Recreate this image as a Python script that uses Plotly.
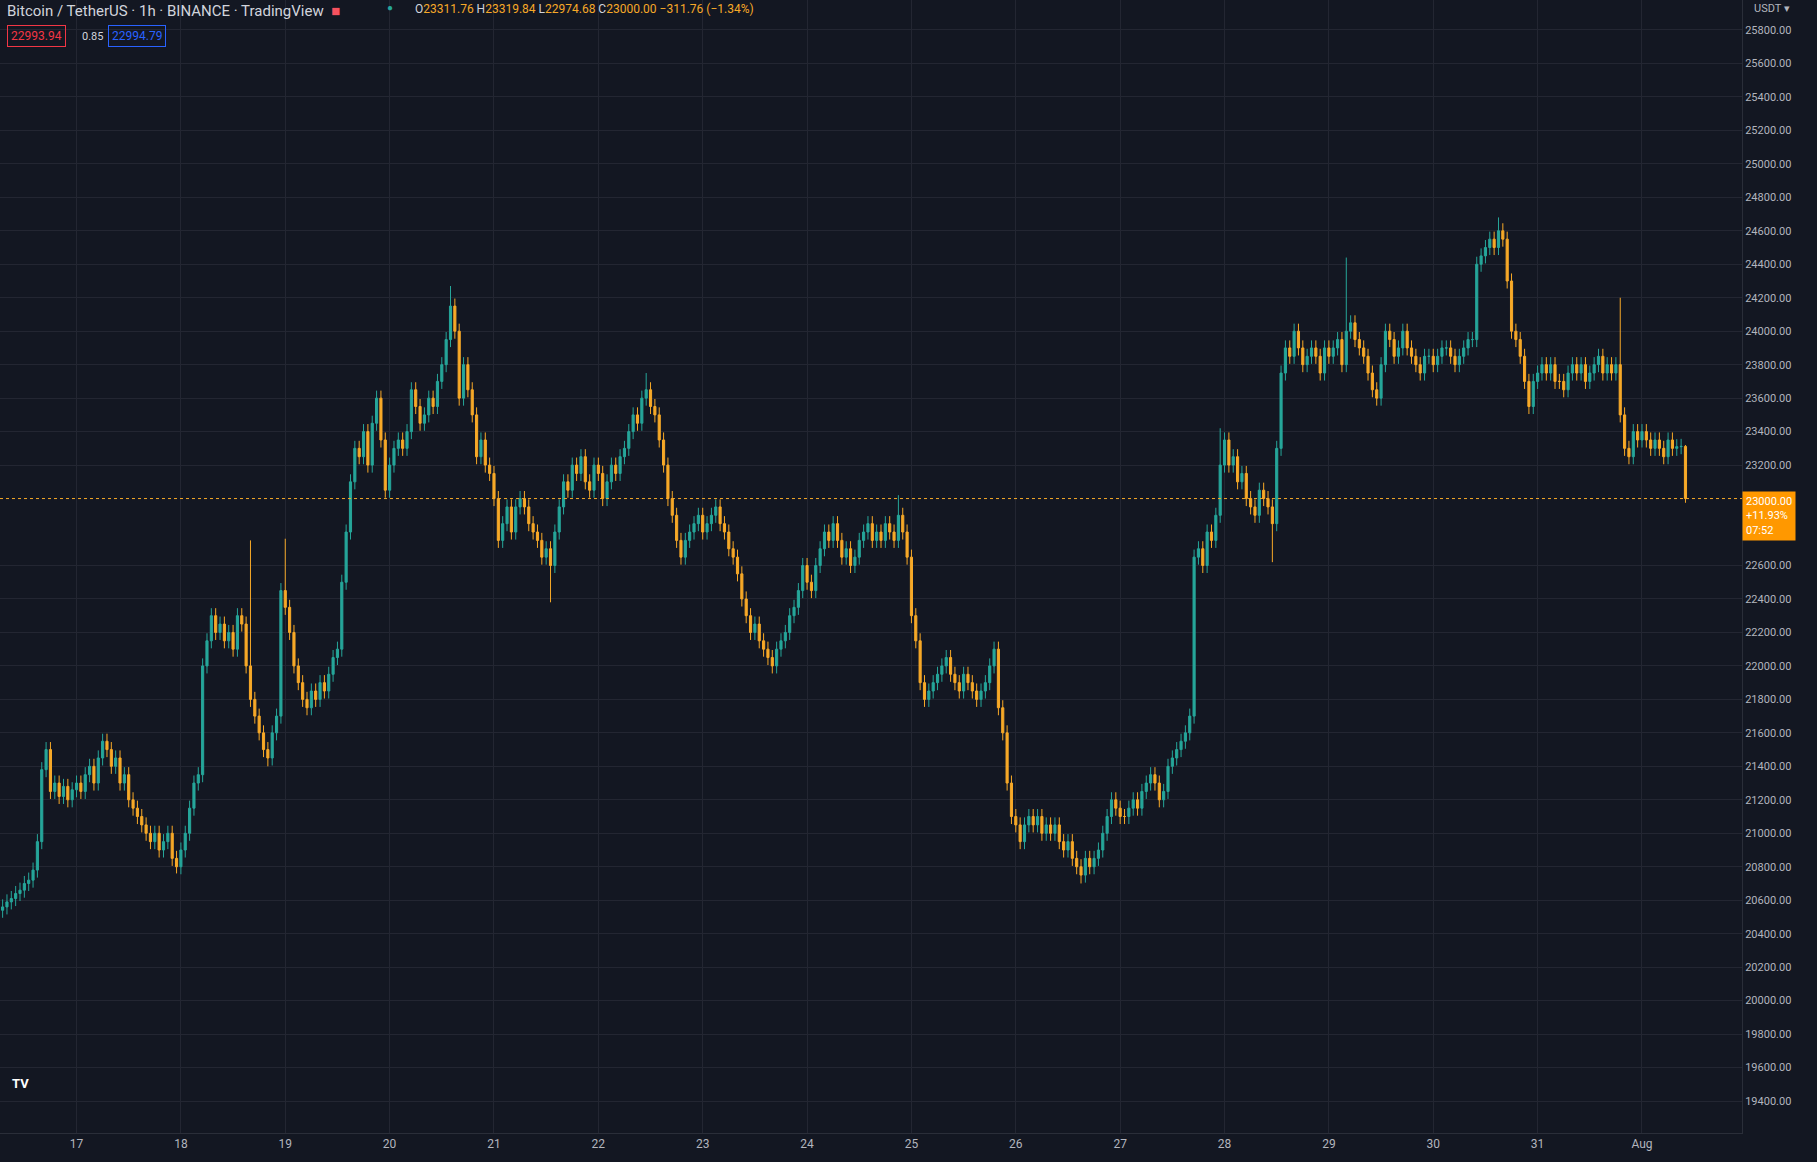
import plotly.graph_objects as go
import pandas as pd

# hourly closes, by day (Jul16 from 07:00, Aug1 to 10:00)
closes_by_day = [
 [20560,20590,20610,20640,20660,20700,20720,20780,20950,21380,21500,21250,21300,21220,21280,21200,21260],
 [21300,21250,21350,21400,21300,21450,21550,21500,21400,21450,21300,21350,21200,21150,21100,21050,21000,20950,21000,20900,20950,21000,20850,20800],
 [20900,21000,21150,21300,21350,22000,22150,22300,22200,22250,22150,22200,22100,22300,22250,22000,21800,21700,21600,21500,21450,21600,21700,22450],
 [22350,22200,22000,21900,21800,21750,21850,21800,21900,21850,21950,22050,22100,22500,22800,23100,23300,23250,23400,23200,23450,23600,23350,23050],
 [23200,23300,23350,23300,23400,23650,23550,23450,23500,23600,23550,23700,23800,23950,24150,24000,23600,23800,23650,23500,23250,23350,23200,23150],
 [23000,22750,22850,22950,22800,22950,23000,22950,22850,22800,22750,22650,22700,22600,22800,22950,23100,23050,23200,23150,23250,23100,23050,23200],
 [23150,23000,23100,23200,23150,23250,23300,23400,23500,23450,23600,23650,23550,23500,23350,23200,23000,22900,22750,22650,22750,22800,22850,22900],
 [22800,22850,22900,22950,22850,22800,22700,22650,22550,22400,22300,22200,22250,22150,22100,22050,22000,22100,22150,22200,22300,22350,22450,22600],
 [22500,22450,22600,22700,22800,22750,22850,22750,22650,22700,22600,22650,22750,22800,22850,22750,22800,22750,22850,22800,22750,22900,22800,22650],
 [22300,22150,21900,21800,21850,21900,21950,22000,22050,21950,21900,21850,21950,21900,21850,21800,21850,21900,22000,22100,21750,21600,21300,21100],
 [21050,20950,21050,21100,21050,21100,21000,21050,21000,21050,20950,20900,20950,20850,20800,20750,20850,20800,20850,20900,21000,21100,21200,21150],
 [21100,21100,21150,21200,21150,21250,21300,21350,21300,21200,21250,21400,21450,21500,21550,21600,21700,22650,22700,22600,22800,22750,22900,23200],
 [23350,23200,23250,23100,23150,23000,22950,22900,23050,23000,22950,22850,23300,23750,23900,23850,24000,23900,23800,23850,23900,23850,23750,23900],
 [23850,23900,23950,23800,24000,24050,23950,23900,23850,23750,23650,23600,23800,24000,23950,23850,23900,24000,23900,23850,23800,23750,23850,23850],
 [23800,23850,23900,23900,23850,23800,23850,23900,23950,23950,24400,24450,24500,24550,24500,24600,24550,24300,24000,23950,23850,23700,23550,23700],
 [23750,23800,23750,23800,23700,23700,23650,23750,23800,23750,23800,23700,23750,23800,23850,23750,23800,23750,23800,23500,23300,23250,23400,23350],
 [23400,23350,23300,23350,23300,23250,23350,23300,23310,23311.76,23000],
]
first_open = 20540
# notable wick extremes
spike_highs = {"2022-07-19 00:00": 22760, "2022-07-20 14:00": 24270, "2022-07-22 11:00": 23750,
               "2022-07-24 21:00": 23020, "2022-07-29 04:00": 24440, "2022-07-30 15:00": 24680,
               "2022-07-31 19:00": 24200, "2022-07-18 16:00": 22750, "2022-07-27 23:00": 23420}
spike_lows = {"2022-07-28 11:00": 22620, "2022-07-21 13:00": 22380, "2022-07-26 15:00": 20700,
              "2022-07-17 23:00": 20760, "2022-07-18 20:00": 21400}
wick = 45

closes = [c for d in closes_by_day for c in d]
times = pd.date_range("2022-07-16 07:00", periods=len(closes), freq="h")
opens = [first_open] + closes[:-1]
highs, lows = [], []
for t, o, c in zip(times, opens, closes):
    k = t.strftime("%Y-%m-%d %H:%M")
    highs.append(spike_highs.get(k, max(o, c) + wick))
    lows.append(spike_lows.get(k, min(o, c) - wick))
highs[-1] = 23319.84; lows[-1] = 22974.68

UP = "#26a69a"; DOWN = "#f7a928"; BG = "#131722"; GRID = "#232632"; TXT = "#b2b5be"

fig = go.Figure(go.Candlestick(x=times, open=opens, high=highs, low=lows, close=closes,
    increasing=dict(line=dict(color=UP, width=1), fillcolor=UP),
    decreasing=dict(line=dict(color=DOWN, width=1), fillcolor=DOWN),
    whiskerwidth=0, hoverinfo="skip"))

last = 23000
fig.add_shape(type="line", xref="paper", x0=0, x1=1, y0=last, y1=last,
              line=dict(color=DOWN, width=1, dash="dot"))

day_ticks = pd.date_range("2022-07-17", "2022-08-01", freq="D")
day_text = [str(d.day) for d in day_ticks[:-1]] + ["Aug"]
y_ticks = [v for v in range(19400, 25801, 200) if v not in (22800, 23000)]

fig.update_layout(
    width=1817, height=1162, paper_bgcolor=BG, plot_bgcolor=BG,
    margin=dict(l=0, r=75, t=0, b=29), showlegend=False,
    font=dict(family="Roboto, sans-serif", color=TXT, size=12),
    xaxis=dict(range=["2022-07-16 06:24", "2022-08-01 23:00"], rangeslider=dict(visible=False),
               tickvals=day_ticks, ticktext=day_text, showgrid=True, gridcolor=GRID,
               zeroline=False, showline=True, linecolor="#2a2e39", ticks="", tickfont=dict(size=12, color=TXT)),
    yaxis=dict(range=[19209, 25979], side="right", tickvals=y_ticks,
               ticktext=[f"{v}.00" for v in y_ticks], showgrid=True, gridcolor=GRID,
               zeroline=False, showline=True, linecolor="#2a2e39", ticks="", tickfont=dict(size=11, color=TXT)),
)

fig.add_annotation(xref="paper", yref="y", x=1.0, y=last, xanchor="left", yanchor="top",
                   text="23000.00<br>+11.93%<br>07:52", showarrow=False, align="left",
                   bgcolor="#ff9800", font=dict(color="white", size=11), borderpad=3, yshift=8)
fig.add_annotation(xref="paper", yref="paper", x=1.0, y=1.0, xanchor="left", yanchor="top",
                   text="USDT ▾", showarrow=False, font=dict(size=11, color=TXT), xshift=10)
fig.add_annotation(xref="paper", yref="paper", x=0.003, y=1.0, xanchor="left", yanchor="top",
                   text="Bitcoin / TetherUS · 1h · BINANCE · TradingView  <span style='color:#f7525f'>■</span>",
                   showarrow=False, font=dict(size=15, color="#d1d4dc"))
fig.add_annotation(xref="paper", yref="paper", x=0.221, y=1.0, xanchor="left", yanchor="top",
                   text="<span style='color:#26a69a'>●</span>", showarrow=False, font=dict(size=10))
fig.add_annotation(xref="paper", yref="paper", x=0.237, y=1.0, xanchor="left", yanchor="top",
                   text="O<span style='color:#f7a928'>23311.76</span> H<span style='color:#f7a928'>23319.84</span> "
                        "L<span style='color:#f7a928'>22974.68</span> C<span style='color:#f7a928'>23000.00</span> "
                        "<span style='color:#f7a928'>−311.76 (−1.34%)</span>",
                   showarrow=False, font=dict(size=12, color="#d1d4dc"))
fig.add_annotation(xref="paper", yref="paper", x=0.004, y=0.978, xanchor="left", yanchor="top",
                   text="22993.94", showarrow=False, font=dict(size=12, color="#f23645"),
                   bordercolor="#f23645", borderwidth=1, borderpad=3)
fig.add_annotation(xref="paper", yref="paper", x=0.044, y=0.978, xanchor="left", yanchor="top",
                   text="0.85", showarrow=False, font=dict(size=11, color="#d1d4dc"), borderpad=4)
fig.add_annotation(xref="paper", yref="paper", x=0.062, y=0.978, xanchor="left", yanchor="top",
                   text="22994.79", showarrow=False, font=dict(size=12, color="#2962ff"),
                   bordercolor="#2962ff", borderwidth=1, borderpad=3)
fig.add_annotation(xref="paper", yref="paper", x=0.006, y=0.035, xanchor="left", yanchor="bottom",
                   text="<b>TV</b>", showarrow=False, font=dict(size=13, color="white"))

fig.write_html("out.html", config={"displayModeBar": False},
               post_script="document.body.style.margin='0';document.body.style.background='#131722';")
